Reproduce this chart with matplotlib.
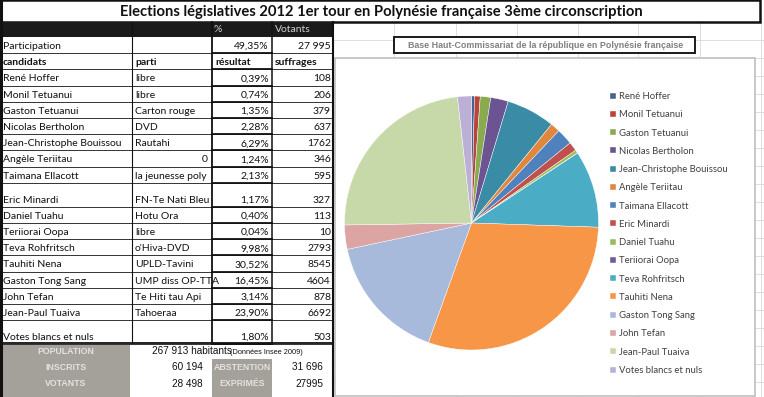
"""Législatives 2012, Polynésie française 3e circonscription: tableau + camembert."""

import matplotlib

matplotlib.use("Agg")
import matplotlib.pyplot as plt
from matplotlib.patches import Rectangle

# ---- données -------------------------------------------------------------
titre = "Elections législatives 2012 1er tour en Polynésie française 3ème circonscription"
source_graph = "Base Haut-Commissariat de la république en Polynésie française"

participation_pct = "49,35%"
participation_votants = "27 995"

candidats = [
    "René Hoffer", "Monil Tetuanui", "Gaston Tetuanui", "Nicolas Bertholon",
    "Jean-Christophe Bouissou", "Angèle Teriitau", "Taimana Ellacott",
    "Eric Minardi", "Daniel Tuahu", "Teriiorai Oopa", "Teva Rohfritsch",
    "Tauhiti Nena", "Gaston Tong Sang", "John Tefan", "Jean-Paul Tuaiva",
]
# partis tels qu'affichés (cellules tronquées dans le tableur)
partis = [
    "libre", "libre", "Carton rouge", "DVD", "Rautahi", 0,
    "la jeunesse poly", "FN-Te Nati Bleu", "Hotu Ora",
    "libre", "o'Hiva-DVD", "UPLD-Tavini", "UMP diss OP-TTA",
    "Te Hiti tau Api", "Tahoeraa",
]
resultats = [0.39, 0.74, 1.35, 2.28, 6.29, 1.24, 2.13, 1.17, 0.40, 0.04,
             9.98, 30.52, 16.45, 3.14, 23.90]
suffrages = [108, 206, 379, 637, 1762, 346, 595, 327, 113, 10,
             2793, 8545, 4604, 878, 6692]

blancs_label = "Votes blancs et nuls"
blancs_pct = 1.80
blancs_voix = 503

population = "267 913 habitants"
population_src = "(Données Insee 2009)"
inscrits = "60 194"
abstention = "31 696"
votants = "28 498"
exprimes = "27995"

couleurs = [
    "#46638f", "#b9433f", "#8aaa4f", "#6c5392", "#3a8ca6", "#e0873d",
    "#4f81bd", "#c0504d", "#9bbb59", "#705b95", "#4bacc6", "#f79646",
    "#a7badc", "#dca4a3", "#c7d9a9", "#bdb0d6",
]

# ---- mise en page (pixels) ----------------------------------------------
W, H = 764, 397
TXT = ["Lato", "DejaVu Sans"]
ARIAL = ["Liberation Sans", "DejaVu Sans"]
COLS = [0, 132, 212, 272, 333]
ROW_H, TALL_H = 16.2, 24.0

fig = plt.figure(figsize=(W / 100, H / 100), dpi=100)
fig.patch.set_facecolor("white")
ax = fig.add_axes([0, 0, 1, 1])
ax.set_xlim(0, W)
ax.set_ylim(H, 0)
ax.axis("off")

# grille du tableur en fond
for gx in [394, 456, 517, 578, 638, 700, 761]:
    ax.plot([gx, gx], [22, H], color="#d9d9d9", lw=0.6, zorder=0)
for gy in range(40, H, 18):
    ax.plot([333, W], [gy, gy], color="#d9d9d9", lw=0.6, zorder=0)

# titre
ax.add_patch(Rectangle((1, 0), 759, 22, fc="white", ec="#111111", lw=1.8, zorder=2))
ax.text(381, 12, titre, family=TXT, weight="bold", fontsize=10.6,
        ha="center", va="center", color="#111111", zorder=3)

# en-tête noir
ax.add_patch(Rectangle((0, 22), 333, 15, fc="#1a1a1a", ec="none", zorder=2))
ax.text(214, 30, "%", family=TXT, fontsize=7.5, color="#d0d0d0", va="center", zorder=3)
ax.text(275, 30, "Votants", family=TXT, fontsize=7.5, color="#d0d0d0", va="center", zorder=3)

# lignes du tableau
lignes = [("Participation", "", participation_pct, participation_votants, False)]
lignes.append(("candidats", "parti", "résultat", "suffrages", True))
for nom, parti, pct, voix in zip(candidats, partis, resultats, suffrages):
    lignes.append((nom, parti, f"{pct:.2f}%".replace(".", ","), str(voix), False))
lignes.append((blancs_label, "", f"{blancs_pct:.2f}%".replace(".", ","), str(blancs_voix), False))

tall = {9, len(lignes) - 1}
y = 37.0
ax.add_patch(Rectangle((0, 37), 333, 306, fc="white", ec="none", zorder=1))
for i, (c1, c2, c3, c4, bold) in enumerate(lignes):
    h = TALL_H if i in tall else ROW_H
    base = y + h - 4.2
    w = "bold" if bold else "normal"
    ax.text(3, base, c1, family=TXT, fontsize=7.5, weight=w, va="baseline", color="#111", zorder=4)
    if isinstance(c2, str):
        ax.text(135, base, c2, family=TXT, fontsize=7.5, weight=w, va="baseline",
                color="#111", zorder=4)
    else:
        ax.text(208, base, str(c2), family=TXT, fontsize=7.5, ha="right", va="baseline",
                color="#111", zorder=4)
    if bold:
        ax.text(215, base, c3, family=TXT, fontsize=7.5, weight=w, va="baseline", color="#111", zorder=4)
        ax.text(275, base, c4, family=TXT, fontsize=7.5, weight=w, va="baseline", color="#111", zorder=4)
    else:
        ax.text(269, base, c3, family=TXT, fontsize=7.5, ha="right", va="baseline", color="#111", zorder=4)
        ax.text(331, base, c4, family=TXT, fontsize=7.5, ha="right", va="baseline", color="#111", zorder=4)
    y += h
    ax.plot([0, 333], [y, y], color="#333333", lw=0.7, zorder=5)
    ax.plot([212, 272], [y, y], color="#111111", lw=1.3, zorder=5)

for cx, lw in zip(COLS[1:], [0.8, 1.3, 1.1, 1.5]):
    ax.plot([cx, cx], [22, 343 if cx < 333 else H], color="#111111", lw=lw, zorder=5)
ax.plot([1, 1], [0, H], color="#111111", lw=2.2, zorder=6)
ax.plot([0, 333], [343, 343], color="#111111", lw=1.3, zorder=6)

# bloc du bas
ax.add_patch(Rectangle((0, 343), 333, H - 343, fc="white", ec="none", zorder=1))
ax.add_patch(Rectangle((1, 344), 129, H - 344, fc="#a4a19a", ec="none", zorder=2))
ax.add_patch(Rectangle((212, 359), 60, H - 359, fc="#a4a19a", ec="none", zorder=2))
lab = dict(family=ARIAL, fontsize=6.3, weight="bold", color="#e2e2e2", ha="center",
           va="center", zorder=4)
ax.text(66, 351, "POPULATION", **lab)
ax.text(66, 367, "INSCRITS", **lab)
ax.text(66, 384, "VOTANTS", **lab)
ax.text(242, 367, "ABSTENTION", **lab)
ax.text(242, 384, "EXPRIMÉS", **lab)
val = dict(family=ARIAL, fontsize=7.2, color="#111", va="center", zorder=4)
ax.text(152, 351, population, **val)
ax.text(230, 352, population_src, family=ARIAL, fontsize=5.3, color="#111",
        va="center", zorder=4)
ax.text(203, 367, inscrits, ha="right", **val)
ax.text(203, 384, votants, ha="right", **val)
ax.text(323, 367, abstention, ha="right", **val)
ax.text(323, 384, exprimes, ha="right", **val)

# zone du graphique
ax.add_patch(Rectangle((335, 58), 420, 338, fc="white", ec="#bfbfbf", lw=1.2, zorder=2))
ax.add_patch(Rectangle((394, 37), 301, 16, fc="white", ec="#1a1a1a", lw=1.4, zorder=2))
ax.text(546, 45.5, source_graph, family=ARIAL, fontsize=6.4, weight="bold",
        color="#808080", ha="center", va="center", zorder=3)

# camembert
cx, cy, r = 471.5, 223, 127
pax = fig.add_axes([(cx - r) / W, (H - cy - r) / H, 2 * r / W, 2 * r / H])
valeurs = suffrages + [blancs_voix]
etiquettes = candidats + [blancs_label]
wedges, _ = pax.pie(valeurs, colors=couleurs, startangle=90, counterclock=False,
                    wedgeprops=dict(linewidth=0.3, edgecolor="white"))
pax.set_xlim(-1, 1)
pax.set_ylim(-1, 1)
pax.set_aspect("equal")

leg = fig.legend(wedges, etiquettes, loc="upper left",
                 bbox_to_anchor=(610 / W, 1 - 92 / H), frameon=False,
                 prop={"family": TXT, "size": 6.8}, handlelength=0.6,
                 handleheight=0.6, handletextpad=0.35, labelspacing=0.98,
                 borderaxespad=0, borderpad=0)
for t in leg.get_texts():
    t.set_color("#404040")

fig.savefig("out.png", dpi=100)
